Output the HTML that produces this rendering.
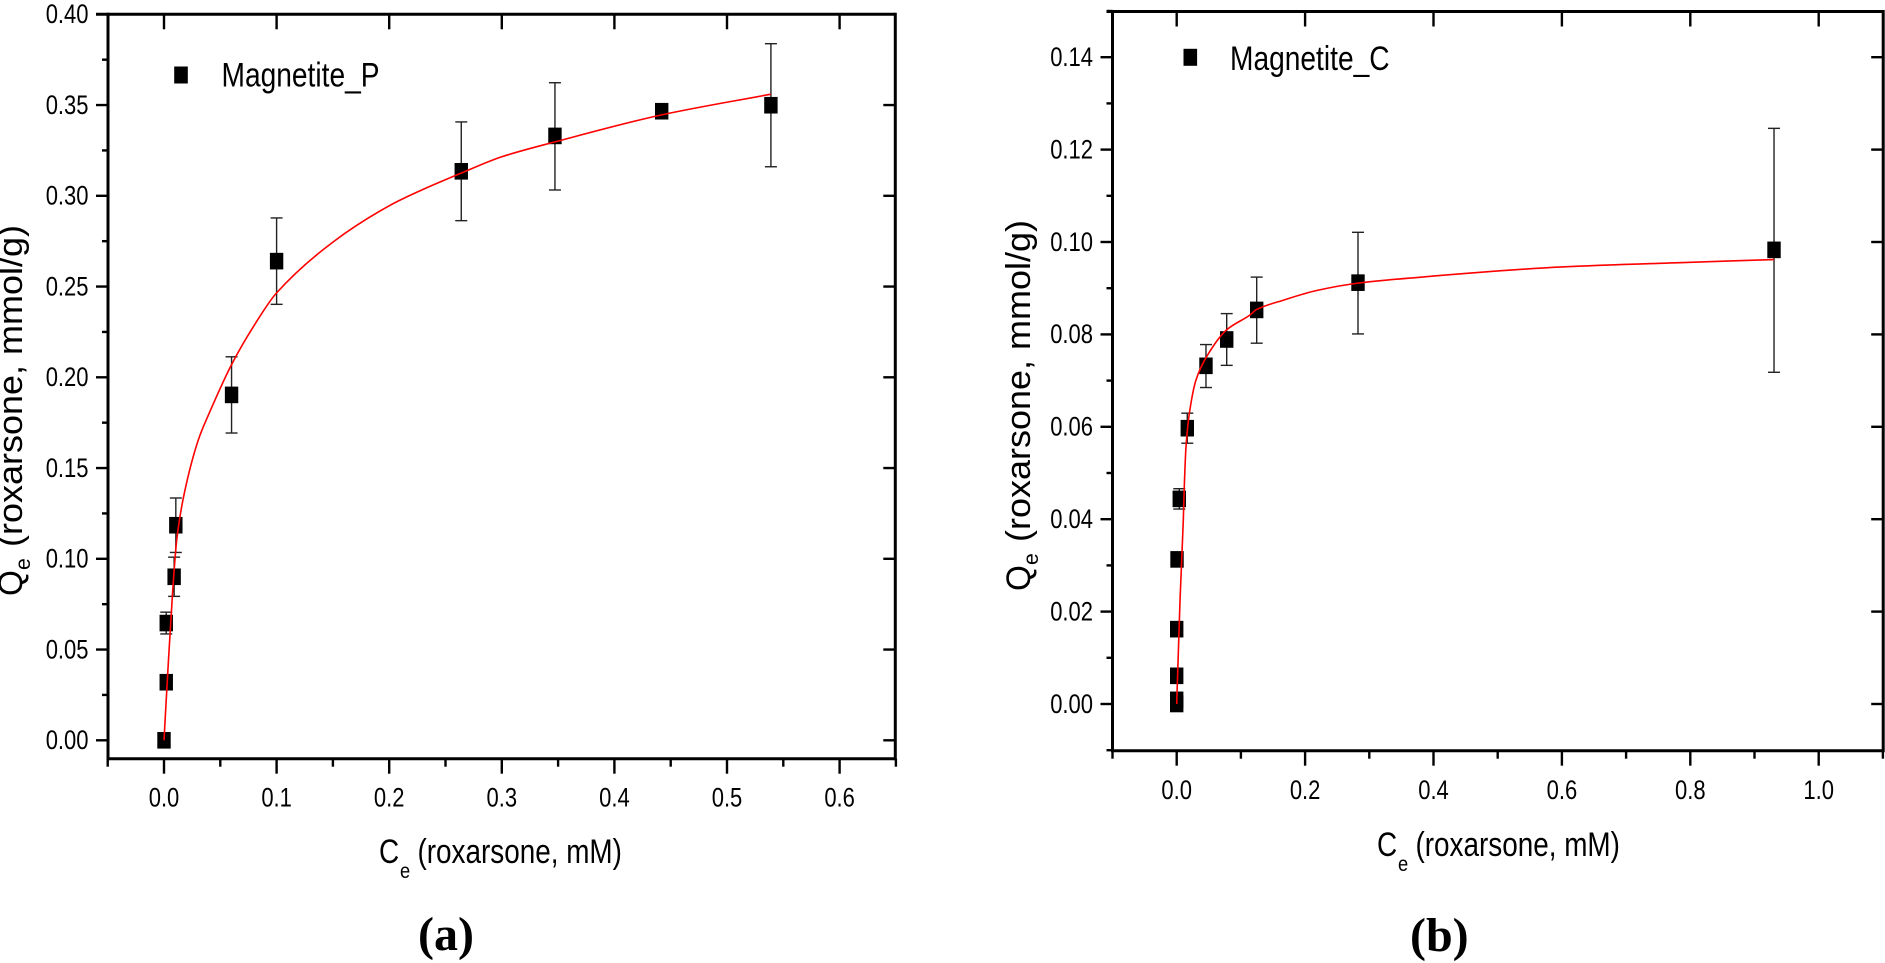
<!DOCTYPE html>
<html lang="en">
<head>
<meta charset="utf-8">
<title>Roxarsone adsorption isotherms on magnetite</title>
<style>
html,body{margin:0;padding:0;background:#fff;}
svg{display:block;}
text{font-family:"Liberation Sans",sans-serif;fill:#000;}
.panel{font-family:"Liberation Serif",serif;font-weight:bold;}
</style>
</head>
<body>
<svg id="figure" xmlns="http://www.w3.org/2000/svg" width="1885" height="963" viewBox="0 0 1885 963"></svg>
<script>
// Panel (a) Magnetite_P data
const aCe = [0, 0.002, 0.002, 0.009, 0.0105, 0.06, 0.1, 0.264, 0.3472, 0.442, 0.539];
const aQe = [0, 0.032, 0.0646, 0.0901, 0.1185, 0.1903, 0.264, 0.3135, 0.333, 0.3466, 0.3499];
const aErrUp = [0, 0, 0.006, 0.0108, 0.015, 0.021, 0.0238, 0.0272, 0.0293, 0.001, 0.0339];
const aErrDown = [0, 0, 0.006, 0.0108, 0.015, 0.021, 0.0238, 0.0272, 0.0298, 0.001, 0.0339];
const aFitX = [0, 0.0033, 0.0076, 0.0113, 0.018, 0.0305, 0.04, 0.06, 0.08, 0.1, 0.15, 0.2, 0.2275, 0.264, 0.3, 0.3472, 0.442, 0.539];
const aFitY = [0, 0.0369, 0.0812, 0.1104, 0.136, 0.1655, 0.18, 0.207, 0.2285, 0.2465, 0.2745, 0.2945, 0.3028, 0.3125, 0.3215, 0.3297, 0.3446, 0.356];
const aXMajor = [0, 0.1, 0.2, 0.3, 0.4, 0.5, 0.6];
const aXMinor = [-0.05, 0.05, 0.15, 0.25, 0.35, 0.45, 0.55, 0.65];
const aYMajor = [0, 0.05, 0.1, 0.15, 0.2, 0.25, 0.3, 0.35, 0.4];
const aYMinor = [0.025, 0.075, 0.125, 0.175, 0.225, 0.275, 0.325, 0.375];
const aXLabels = ["0.0", "0.1", "0.2", "0.3", "0.4", "0.5", "0.6"];
const aYLabels = ["0.00", "0.05", "0.10", "0.15", "0.20", "0.25", "0.30", "0.35", "0.40"];

// Panel (b) Magnetite_C data
const bCe = [0, 0, 0, 0, 0.0005, 0.004, 0.0165, 0.0456, 0.0779, 0.1246, 0.2824, 0.9304];
const bQe = [0, 0.0009, 0.0061, 0.0162, 0.0313, 0.0444, 0.0597, 0.0732, 0.0789, 0.0853, 0.0912, 0.0983];
const bErrUp = [0, 0, 0, 0, 0, 0.0022, 0.00325, 0.0046, 0.0056, 0.0071, 0.0109, 0.0263];
const bErrDown = [0, 0, 0, 0, 0, 0.0022, 0.00325, 0.0047, 0.0056, 0.0072, 0.0111, 0.0265];
const bFitX = [0, 0.0052, 0.0103, 0.0118, 0.0145, 0.0197, 0.03, 0.0467, 0.0779, 0.1142, 0.1246, 0.166, 0.218, 0.2824, 0.3634, 0.6, 0.8, 0.9304];
const bFitY = [0, 0.0225, 0.0398, 0.047, 0.0557, 0.0629, 0.0701, 0.0752, 0.081, 0.0842, 0.0854, 0.0874, 0.0895, 0.0911, 0.0922, 0.0946, 0.0956, 0.0962];
const bXMajor = [0, 0.2, 0.4, 0.6, 0.8, 1.0];
const bXMinor = [-0.1, 0.1, 0.3, 0.5, 0.7, 0.9, 1.1];
const bYMajor = [0, 0.02, 0.04, 0.06, 0.08, 0.1, 0.12, 0.14];
const bYMinor = [-0.01, 0.01, 0.03, 0.05, 0.07, 0.09, 0.11, 0.13, 0.15];
const bXLabels = ["0.0", "0.2", "0.4", "0.6", "0.8", "1.0"];
const bYLabels = ["0.00", "0.02", "0.04", "0.06", "0.08", "0.10", "0.12", "0.14"];

const NS = "http://www.w3.org/2000/svg";
const fig = document.getElementById("figure");

function mk(tag, attrs, parent) {
  const el = document.createElementNS(NS, tag);
  for (const k in attrs) el.setAttribute(k, attrs[k]);
  (parent || fig).appendChild(el);
  return el;
}
function ln(x1, y1, x2, y2, w, parent, color) {
  return mk("line", {x1: x1, y1: y1, x2: x2, y2: y2, stroke: color || "#000", "stroke-width": w}, parent);
}
function txt(str, x, y, size, sx, sy, rot, anchor, parent) {
  const el = mk("text", {
    "font-size": size,
    "text-anchor": anchor || "start",
    transform: "translate(" + x + " " + y + ")" + (rot ? " rotate(" + rot + ")" : "") + " scale(" + sx + " " + sy + ")"
  }, parent);
  el.textContent = str;
  return el;
}
// Smooth monotone cubic path through the given screen points
function smoothPath(px, py) {
  const n = px.length;
  const s = [];
  for (let i = 0; i < n - 1; i++) s.push((py[i + 1] - py[i]) / (px[i + 1] - px[i]));
  const m = [s[0]];
  for (let i = 1; i < n - 1; i++) {
    m.push(s[i - 1] * s[i] <= 0 ? 0 : 2 * s[i - 1] * s[i] / (s[i - 1] + s[i]));
  }
  m.push(s[n - 2]);
  let d = "M" + px[0].toFixed(2) + " " + py[0].toFixed(2);
  for (let i = 0; i < n - 1; i++) {
    const h = (px[i + 1] - px[i]) / 3;
    d += " C" + (px[i] + h).toFixed(2) + " " + (py[i] + m[i] * h).toFixed(2) +
         " " + (px[i + 1] - h).toFixed(2) + " " + (py[i + 1] - m[i + 1] * h).toFixed(2) +
         " " + px[i + 1].toFixed(2) + " " + py[i + 1].toFixed(2);
  }
  return d;
}

function drawPanel(p) {
  const X = v => p.x0 + p.xUnit * v;
  const Y = v => p.y0 - p.yUnit * v;
  const g = mk("g", {});
  
  

  // frame
  const left = ln(p.left, p.top - 1.5, p.left, p.bottom + 1.5, 3, g);
  
  
  const right = ln(p.right, p.top - 1.5, p.right, p.bottom + 1.5, 3, g);
  
  
  const top = ln(p.left - (p.topOverhang || 0), p.top, p.right, p.top, 3, g);
  
  
  const bottom = ln(p.left, p.bottom, p.right, p.bottom, 3, g);
  
  

  // x ticks
  p.xMajor.forEach(function (v, i) {
    const t = ln(X(v), p.bottom, X(v), p.bottom + 15, 2.4, g);
    
    
    const tt = ln(X(v), p.top, X(v), p.top + 15, 2.4, g);
    
    
    const l = txt(p.xLabels[i], X(v), p.xLabelY, 26.5, 0.83, 1, 0, "middle", g);
    
    
  });
  p.xMinor.forEach(function (v) {
    const t = ln(X(v), p.bottom, X(v), p.bottom + 8, 2.4, g);
    
    
  });

  // y ticks
  p.yMajor.forEach(function (v, i) {
    const t = ln(p.left - 12, Y(v), p.left, Y(v), 2.4, g);
    
    
    const rt = ln(p.right - 12, Y(v), p.right, Y(v), 2.4, g);
    
    
    const l = txt(p.yLabels[i], p.left - 19.5, Y(v) + 8.8, 26.5, 0.83, 1, 0, "end", g);
    
    
  });
  p.yMinor.forEach(function (v) {
    const t = ln(p.left - 6, Y(v), p.left, Y(v), 2.4, g);
    
    
  });

  // error bars
  p.ce.forEach(function (v, i) {
    if (p.up[i] <= 0 && p.down[i] <= 0) return;
    const hi = Y(p.qe[i] + p.up[i]);
    const lo = Y(p.qe[i] - p.down[i]);
    const cx = X(v);
    const s = ln(cx, hi, cx, lo, 1.4, g, "#222");
    
    
    const c1 = ln(cx - 6, hi, cx + 6, hi, 1.4, g, "#222");
    
    
    const c2 = ln(cx - 6, lo, cx + 6, lo, 1.4, g, "#222");
    
    
  });

  // points
  p.ce.forEach(function (v, i) {
    const m = mk("rect", {x: X(v) - 6.7, y: Y(p.qe[i]) - 8.3, width: 13.4, height: 16.6, fill: "#000"}, g);
    
    
  });

  // fit line
  const d = smoothPath(p.fitX.map(X), p.fitY.map(Y));
  const fit = mk("path", {d: d, fill: "none", stroke: "#f00", "stroke-width": 1.6, "stroke-linejoin": "round"}, g);
  
  

  // legend
  const ls = mk("rect", {x: p.legX - 6.8, y: p.legY - 8.5, width: 13.6, height: 17, fill: "#000"}, g);
  
  
  const lt = txt(p.legText, p.legTextX, p.legTextY, 34, 0.828, 1, 0, "start", g);
  
  

  // x title
  const xc = txt("C", p.xtX, p.xtY, 34, 0.82, 1, 0, "start", g);
  
  
  const xe = txt("e", p.xtX + 21, p.xtY + 15, 21, 0.87, 1, 0, "start", g);
  
  
  const xr = txt("(roxarsone, mM)", p.xtX + 38.5, p.xtY, 34, 0.82, 1, 0, "start", g);
  
  

  // y title
  const yq = txt("Q", p.ytX, p.ytY, 32, 1.04, 1.06, -90, "start", g);
  
  
  const ye = txt("e", p.ytX + 8, p.ytY - 26, 20, 1.06, 1.06, -90, "start", g);
  
  
  const yr = txt("(roxarsone, mmol/g)", p.ytX, p.ytY - 49, 32, 1.125, 1.06, -90, "start", g);
  
  

  // panel label
  const pl = txt(p.panel, p.panelX, p.panelY, 48, 1, 1, 0, "start", g);
  pl.setAttribute('class', 'panel');
  
  
}

drawPanel({
  name: "chart-magnetite-p", x0: 164, xUnit: 1126, y0: 740.3, yUnit: 1815,
  left: 108, right: 895.3, top: 14.3, bottom: 758.7, topOverhang: 12, xLabelY: 806.7,
  ce: aCe, qe: aQe, up: aErrUp, down: aErrDown, fitX: aFitX, fitY: aFitY,
  xMajor: aXMajor, xMinor: aXMinor, yMajor: aYMajor, yMinor: aYMinor, xLabels: aXLabels, yLabels: aYLabels,
  legX: 181, legY: 75, legText: "Magnetite_P", legTextX: 221.5, legTextY: 86.5,
  xtX: 379, xtY: 863, ytX: 22, ytY: 596, panel: "(a)", panelX: 418, panelY: 950
});
drawPanel({
  name: "chart-magnetite-c", x0: 1176.7, xUnit: 642, y0: 704, yUnit: 4620,
  left: 1112.5, right: 1883.2, top: 11.5, bottom: 750.7, topOverhang: 6, xLabelY: 799,
  ce: bCe, qe: bQe, up: bErrUp, down: bErrDown, fitX: bFitX, fitY: bFitY,
  xMajor: bXMajor, xMinor: bXMinor, yMajor: bYMajor, yMinor: bYMinor, xLabels: bXLabels, yLabels: bYLabels,
  legX: 1190.3, legY: 57.3, legText: "Magnetite_C", legTextX: 1230, legTextY: 70,
  xtX: 1377, xtY: 856, ytX: 1030, ytY: 591, panel: "(b)", panelX: 1410, panelY: 951
});
</script>
</body>
</html>
